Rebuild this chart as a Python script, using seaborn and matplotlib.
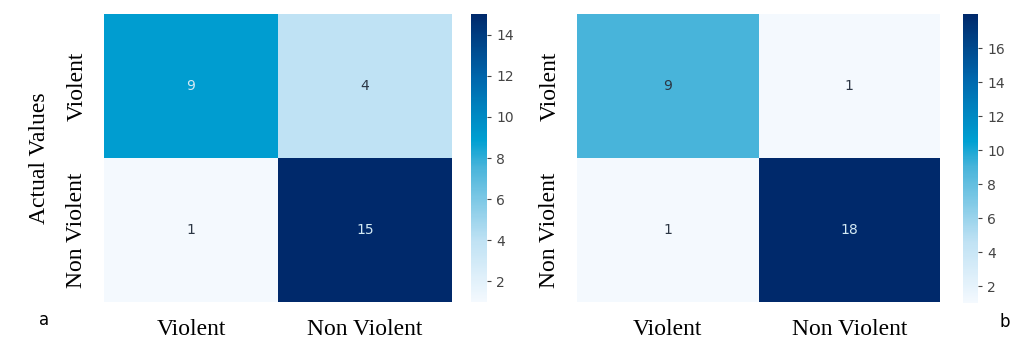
import numpy as np
import matplotlib
matplotlib.use("Agg")
import matplotlib.pyplot as plt
from matplotlib.colors import LinearSegmentedColormap
import seaborn as sns

# Confusion matrices for the two classifiers
class_labels = ["Violent", "Non Violent"]
cm_a = [[9, 4],
        [1, 15]]
cm_b = [[9, 1],
        [1, 18]]
ylabel_a = "Actual Values"
panel_letters = ["a", "b"]

W, H = 1021, 345
fig = plt.figure(figsize=(W / 100, H / 100), dpi=100)

cmap = LinearSegmentedColormap.from_list(
    "cm_blues",
    [(0.00, "#f4f9fe"),
     (0.21, "#c0e2f4"),
     (0.47, "#48b4da"),
     (0.56, "#00a0d2"),
     (0.78, "#0066ac"),
     (1.00, "#00296b")],
)

serif = "Liberation Serif"


def frac(x, y, w, h):
    return [x / W, (H - y - h) / H, w / W, h / H]


def draw(ax, cax, cm, ylabel=None):
    data = np.array(cm)
    sns.heatmap(data, ax=ax, cbar_ax=cax, cmap=cmap, annot=True, fmt="d",
                annot_kws={"fontsize": 10, "family": "DejaVu Sans"},
                xticklabels=class_labels, yticklabels=class_labels)
    lo, hi = data.min(), data.max()
    for t in ax.texts:
        v = float(t.get_text())
        t.set_color("#d4eaf4" if (v - lo) / (hi - lo) > 0.5 else "#2b3644")
    ax.tick_params(length=0, pad=12)
    for lab in ax.get_xticklabels():
        lab.set_fontfamily(serif)
        lab.set_fontsize(17)
        lab.set_rotation(0)
    for lab in ax.get_yticklabels():
        lab.set_fontfamily(serif)
        lab.set_fontsize(17)
        lab.set_rotation(90)
        lab.set_va("center")
    if ylabel:
        ax.set_ylabel(ylabel, fontfamily=serif, fontsize=17, labelpad=12)
    cb = ax.collections[0].colorbar
    cb.set_ticks(list(range(2, int(hi), 2)))
    cb.outline.set_visible(False)
    cax.tick_params(labelsize=10, colors="#444444", length=3, width=0.8)


ax_a = fig.add_axes(frac(104, 14, 348, 288))
cax_a = fig.add_axes(frac(471, 14, 16, 288))
ax_b = fig.add_axes(frac(577, 14, 363, 288))
cax_b = fig.add_axes(frac(963, 14, 15, 289))

draw(ax_a, cax_a, cm_a, ylabel_a)
draw(ax_b, cax_b, cm_b)

fig.text(44 / W, 1 - 320 / H, panel_letters[0], fontsize=12, ha="center", va="center")
fig.text(1005 / W, 1 - 322 / H, panel_letters[1], fontsize=12, ha="center", va="center")

fig.savefig("out.png", dpi=100)
